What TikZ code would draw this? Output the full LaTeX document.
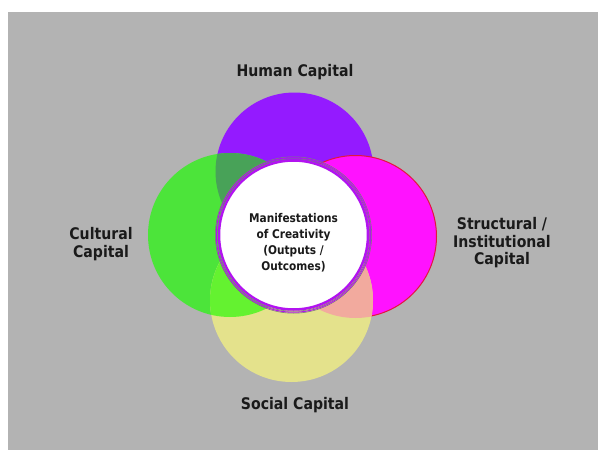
\documentclass[tikz,border=0pt]{standalone}
\usepackage{fontspec}
\setmainfont{DejaVu Sans}[FakeStretch=0.88]
\usetikzlibrary{positioning}
\definecolor{Backdrop}{RGB}{179,179,179}
\definecolor{HumanPurple}{RGB}{148,26,255}
\definecolor{StructMagenta}{RGB}{255,18,255}
\definecolor{StructRim}{RGB}{226,24,60}
\definecolor{CultGreen}{RGB}{76,228,58}
\definecolor{SocialYellow}{RGB}{228,226,140}
\definecolor{DeepGreen}{RGB}{72,162,88}
\definecolor{BrightGreen}{RGB}{100,242,48}
\definecolor{Salmon}{RGB}{242,170,158}
\definecolor{RingPurple}{RGB}{178,20,240}
\definecolor{Ink}{RGB}{26,26,26}

\begin{document}
\begin{tikzpicture}[x=1pt,y=-1pt,
  capital/.style={circle,inner sep=0pt,draw=none},
  label/.style={align=center,text=Ink,font=\fontsize{16}{17.5}\selectfont\bfseries},
  centre/.style={align=center,text=Ink,font=\fontsize{12}{16}\selectfont\bfseries}]
  \useasboundingbox (0,0) rectangle (598,450);
  \fill[Backdrop] (8,12) rectangle (598,450);

  % four capitals
  \node[capital,fill=HumanPurple,minimum size=158pt]  (human)      at (294.5,171.5) {};
  \node[capital,fill=StructMagenta,draw=StructRim,line width=1pt,minimum size=162pt]
                                                      (structural) at (355.5,236.5) {};
  \node[capital,fill=CultGreen,minimum size=164pt]    (cultural)   at (230,235) {};
  \node[capital,fill=SocialYellow,minimum size=163pt] (social)     at (291.5,300.5) {};

  % overlaps
  \begin{scope}
    \clip (cultural.center) circle[radius=82];
    \fill[DeepGreen] (human.center) circle[radius=79];
    \fill[BrightGreen] (social.center) circle[radius=81.5];
  \end{scope}
  \begin{scope}
    \clip (structural.center) circle[radius=81.5];
    \fill[Salmon] (social.center) circle[radius=81.5];
  \end{scope}

  % centre
  \draw[Backdrop!70!black,line width=0.6pt] (293.5,235) circle[radius=78.2];
  \draw[RingPurple,line width=1pt] (293.5,235) circle[radius=77.2];
  \draw[Backdrop!70!black,line width=0.6pt] (293.5,235) circle[radius=76.2];
  \node[circle,fill=white,draw=RingPurple,line width=2.5pt,minimum size=149pt,inner sep=0pt]
    (manifest) at (293.5,235) {};
  \node[centre] (manifesttext) at (293.5,243) {Manifestations\\of Creativity\\(Outputs /\\Outcomes)};

  \node[label] (humanlabel)  at (295,72)    {Human Capital};
  \node[label] (culturallabel) at (101,244) {Cultural\\Capital};
  \node[label] (structlabel) at (502,243)   {Structural /\\Institutional\\Capital};
  \node[label] (sociallabel) at (295,405)   {Social Capital};
\end{tikzpicture}
\end{document}
